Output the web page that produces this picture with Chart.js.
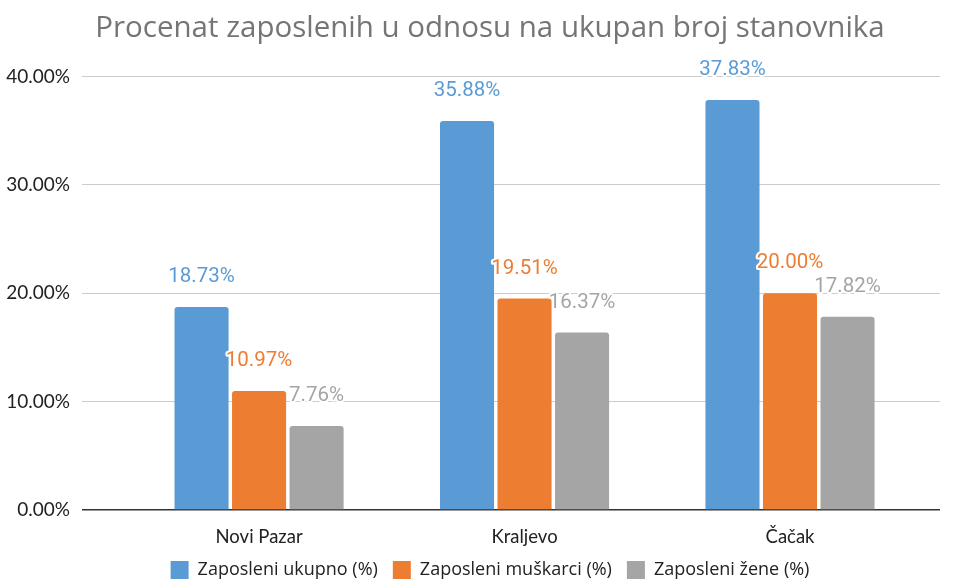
<!DOCTYPE html>
<html>
<head>
<meta charset="utf-8">
<script src="https://cdn.jsdelivr.net/npm/chart.js@4.4.1/dist/chart.umd.min.js"></script>
<style>
  html, body { margin: 0; padding: 0; background: #fff; }
  #wrap { width: 957px; height: 580px; position: relative; }
</style>
</head>
<body>
<div id="wrap"><canvas id="chart"></canvas></div>
<script>
// chart data
const cities = ["Novi Pazar", "Kraljevo", "Čačak"];
const seriesNames = ["Zaposleni ukupno (%)", "Zaposleni muškarci (%)", "Zaposleni žene (%)"];
const ukupno = [18.73, 35.88, 37.83];
const muskarci = [10.97, 19.51, 20.00];
const zene = [7.76, 16.37, 17.82];
const yTicks = [0, 10, 20, 30, 40];

const colors = ["#5b9bd5", "#ed7d31", "#a5a5a5"];
const seriesValues = [ukupno, muskarci, zene];

// x is linear so the groups can sit off-centre like the original
const datasets = seriesValues.map((vals, s) => ({
  label: seriesNames[s],
  data: vals.map((v, i) => ({ x: i, y: v })),
  backgroundColor: colors[s],
  borderRadius: { topLeft: 3, topRight: 3 },
  borderSkipped: "bottom",
  barPercentage: 0.94,
  categoryPercentage: 0.65,
}));

// value labels above bars, with white halo
const valueLabels = {
  id: "valueLabels",
  afterLayout(chart) {
    // title + legend in the original sit a bit right of centre
    chart.titleBlock.left += 40;
    chart.legend.left += 40;
  },
  afterDatasetsDraw(chart) {
    const ctx = chart.ctx;
    ctx.save();
    ctx.font = "20.5px Roboto";
    ctx.textAlign = "center";
    ctx.textBaseline = "alphabetic";
    ctx.lineJoin = "round";
    chart.data.datasets.forEach((ds, s) => {
      chart.getDatasetMeta(s).data.forEach((bar, i) => {
        const txt = seriesValues[s][i].toFixed(2) + "%";
        ctx.lineWidth = 4;
        ctx.strokeStyle = "#fff";
        ctx.strokeText(txt, bar.x, bar.y - 25);
        ctx.fillStyle = colors[s];
        ctx.fillText(txt, bar.x, bar.y - 25);
      });
    });
    ctx.restore();
  }
};

new Chart(document.getElementById("chart"), {
  type: "bar",
  data: { datasets },
  plugins: [valueLabels],
  options: {
    responsive: true,
    maintainAspectRatio: false,
    animation: false,
    layout: { padding: { left: 0, right: 17, top: 0, bottom: -9 } },
    plugins: {
      title: {
        display: true,
        text: "Procenat zaposlenih u odnosu na ukupan broj stanovnika",
        color: "#757575",
        font: { family: "'Open Sans'", size: 29.5, weight: "normal" },
        padding: { top: 11, bottom: 30 },
      },
      legend: {
        position: "bottom",
        labels: {
          color: "#222",
          font: { family: "'Open Sans'", size: 18 },
          boxWidth: 18,
          boxHeight: 18,
          padding: 15,
        },
      },
      tooltip: { enabled: false },
    },
    scales: {
      x: {
        type: "linear",
        offset: false,
        min: -0.667,
        max: 2.565,
        afterBuildTicks: (scale) => { scale.ticks = cities.map((c, i) => ({ value: i })); },
        afterFit: (scale) => { scale.height = 36; },
        grid: { display: false },
        border: { display: false },
        ticks: {
          color: "#222",
          font: { family: "Lato", size: 18.5 },
          padding: 8,
          callback: (v) => cities[v] ?? "",
        },
      },
      y: {
        min: 0,
        max: 40,
        afterBuildTicks: (scale) => { scale.ticks = yTicks.map((v) => ({ value: v })); },
        afterFit: (scale) => { scale.width = 82; },
        grid: {
          color: (c) => (c.tick.value === 0 ? "#333" : "#ccc"),
          lineWidth: (c) => (c.tick.value === 0 ? 1.5 : 1),
          drawTicks: false,
        },
        border: { display: false },
        ticks: {
          color: "#222",
          font: { family: "Lato", size: 19 },
          padding: 12,
          callback: (v) => v.toFixed(2) + "%",
        },
      },
    },
  },
});
</script>
</body>
</html>
